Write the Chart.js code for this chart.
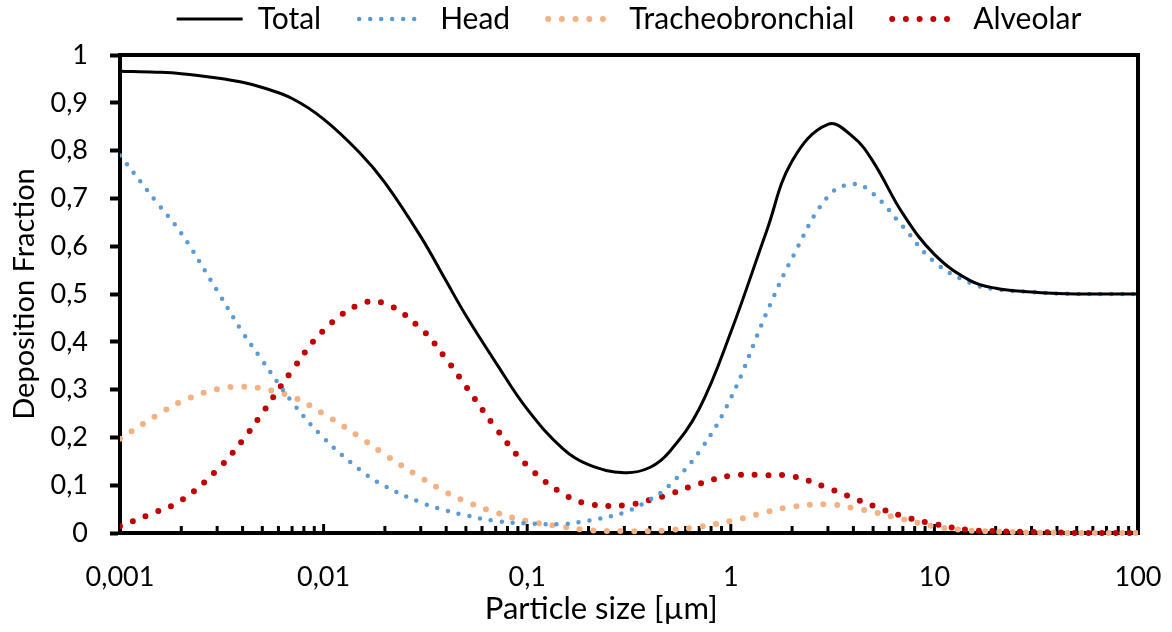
<!DOCTYPE html>
<html>
<head>
<meta charset="utf-8">
<script src="https://cdn.jsdelivr.net/npm/chart.js@4.4.0/dist/chart.umd.min.js"></script>
<style>
  html, body { margin: 0; padding: 0; background: #fff; }
</style>
</head>
<body>
<canvas id="myChart" width="1172" height="632"></canvas>
<script>
// particle size [µm]
const sizes = [0.001, 0.0015, 0.002, 0.003, 0.004, 0.005, 0.007,
  0.01, 0.015, 0.02, 0.03, 0.04, 0.05, 0.07,
  0.1, 0.15, 0.2, 0.3, 0.4, 0.5, 0.7,
  1, 1.5, 2, 3, 4, 5, 7,
  10, 15, 20, 30, 40, 50, 70, 100];

const total = [0.966, 0.964, 0.961, 0.952, 0.943, 0.932, 0.909,
  0.866, 0.796, 0.733, 0.62, 0.527, 0.455, 0.357,
  0.259, 0.176, 0.143, 0.126, 0.137, 0.17, 0.26,
  0.42, 0.632, 0.778, 0.855, 0.828, 0.777, 0.668,
  0.583, 0.528, 0.512, 0.504, 0.501, 0.5, 0.5, 0.5];

const head = [0.79, 0.694, 0.627, 0.507, 0.42, 0.361, 0.274,
  0.199, 0.133, 0.098, 0.064, 0.047, 0.037, 0.025,
  0.02, 0.019, 0.026, 0.043, 0.07, 0.1, 0.17,
  0.282, 0.461, 0.575, 0.704, 0.73, 0.71, 0.641,
  0.567, 0.523, 0.51, 0.504, 0.501, 0.5, 0.5, 0.5];

const tracheo = [0.197, 0.245, 0.275, 0.301, 0.306, 0.302, 0.285,
  0.249, 0.201, 0.164, 0.116, 0.085, 0.066, 0.043,
  0.025, 0.013, 0.006, 0.004, 0.004, 0.006, 0.013,
  0.025, 0.044, 0.055, 0.06, 0.052, 0.044, 0.029,
  0.014, 0.005, 0.003, 0.001, 0.0005, 0, 0, 0];

const alveolar = [0.014, 0.044, 0.068, 0.132, 0.194, 0.251, 0.34,
  0.424, 0.478, 0.48, 0.428, 0.364, 0.307, 0.22,
  0.141, 0.082, 0.061, 0.058, 0.069, 0.081, 0.103,
  0.12, 0.121, 0.119, 0.094, 0.073, 0.057, 0.035,
  0.019, 0.006, 0.004, 0.002, 0.001, 0, 0, 0];

const xTickValues = [0.001, 0.01, 0.1, 1, 10, 100];
const xTickLabels = ['0,001', '0,01', '0,1', '1', '10', '100'];
const yTickLabels = ['0', '0,1', '0,2', '0,3', '0,4', '0,5', '0,6', '0,7', '0,8', '0,9', '1'];

// minor tick positions 1..9 per decade
const xMinorTicks = [];
for (let e = -3; e < 2; e++) {
  for (let m = 1; m < 10; m++) xMinorTicks.push(m * Math.pow(10, e));
}
xMinorTicks.push(100);

const toPoints = (ys) => sizes.map((x, i) => ({x: x, y: ys[i]}));

const font = 'Lato';

// excel style: ticks pointing inward on x axis, plus a closed frame
const frame = {
  id: 'frame',
  beforeDatasetsDraw(chart) {
    const {ctx, chartArea, scales} = chart;
    ctx.save();
    ctx.strokeStyle = '#000';
    ctx.lineWidth = 3;
    xMinorTicks.forEach(v => {
      const px = scales.x.getPixelForValue(v);
      const major = xTickValues.includes(v);
      ctx.beginPath();
      ctx.moveTo(px, chartArea.bottom);
      ctx.lineTo(px, chartArea.bottom - (major ? 9 : 7));
      ctx.stroke();
    });
    ctx.lineWidth = 4;
    ctx.beginPath();
    ctx.moveTo(chartArea.left - 2, chartArea.top);
    ctx.lineTo(chartArea.right, chartArea.top);
    ctx.lineTo(chartArea.right, chartArea.bottom + 2);
    ctx.stroke();
    ctx.restore();
  }
};

const ctx = document.querySelector('#myChart');
const myChart = new Chart(ctx, {
  type: 'line',
  data: {
    datasets: [{
      label: 'Total',
      data: toPoints(total),
      borderColor: '#000000',
      borderWidth: 3
    }, {
      label: 'Head',
      data: toPoints(head),
      borderColor: '#5B9BD5',
      borderWidth: 4.5,
      borderDash: [0, 11],
      borderCapStyle: 'round'
    }, {
      label: 'Tracheobronchial',
      data: toPoints(tracheo),
      borderColor: '#F4B183',
      borderWidth: 6,
      borderDash: [0, 13.7],
      borderCapStyle: 'round'
    }, {
      label: 'Alveolar',
      data: toPoints(alveolar),
      borderColor: '#C00000',
      borderWidth: 6,
      borderDash: [0, 13.7],
      borderCapStyle: 'round'
    }]
  },
  options: {
    responsive: false,
    animation: false,
    devicePixelRatio: 1,
    layout: { padding: { top: -34, left: 0, right: 34, bottom: 0 } },
    datasets: {
      line: {
        pointRadius: 0,
        fill: false,
        tension: 0.4,
        clip: { left: 0, top: 6, right: 0, bottom: 6 }
      }
    },
    plugins: {
      tooltip: { enabled: false },
      // empty title only used as a spacer between legend and plot
      title: {
        display: true,
        text: '',
        fullSize: false,
        weight: 500,
        font: { size: 5 },
        padding: { top: 0, bottom: 5 }
      },
      legend: {
        position: 'top',
        fullSize: false,
        weight: 1000,
        labels: {
          color: '#000',
          font: { family: font, size: 30 },
          usePointStyle: true,
          pointStyle: 'line',
          pointStyleWidth: 66,
          padding: 38,
          generateLabels: (chart) => Chart.defaults.plugins.legend.labels.generateLabels(chart).map(item => {
            const ds = chart.data.datasets[item.datasetIndex];
            item.lineDash = ds.borderDash || [];
            item.lineCap = ds.borderCapStyle || 'butt';
            item.lineWidth = ds.borderWidth;
            item.strokeStyle = ds.borderColor;
            return item;
          })
        }
      }
    },
    scales: {
      x: {
        type: 'logarithmic',
        min: 0.001,
        max: 100,
        afterBuildTicks: (scale) => { scale.ticks = xTickValues.map(v => ({value: v})); },
        afterFit: (scale) => { scale.height = 99; scale.paddingLeft = 0; scale.paddingRight = 0; },
        ticks: {
          color: '#000',
          font: { family: font, size: 27 },
          padding: 28,
          maxRotation: 0,
          autoSkip: false,
          callback: (v, i) => xTickLabels[i]
        },
        grid: { display: true, drawOnChartArea: false, drawTicks: false },
        border: { display: true, color: '#000', width: 4 },
        title: {
          display: true,
          text: 'Particle size [µm]' + '\u00a0'.repeat(7),
          color: '#000',
          font: { family: font, size: 31 },
          padding: { top: 0, bottom: 4 }
        }
      },
      y: {
        min: 0,
        max: 1,
        afterFit: (scale) => { scale.width = 120; scale.paddingTop = 0; scale.paddingBottom = 0; },
        ticks: {
          stepSize: 0.1,
          color: '#000',
          font: { family: font, size: 27 },
          padding: 22,
          callback: (v, i) => yTickLabels[i]
        },
        grid: { drawOnChartArea: false, drawTicks: true, tickLength: 10, tickWidth: 4, tickColor: '#000' },
        border: { display: true, color: '#000', width: 4 },
        title: {
          display: true,
          text: 'Deposition Fraction',
          color: '#000',
          font: { family: font, size: 29 },
          padding: { top: 7, bottom: 0 }
        }
      }
    }
  },
  plugins: [frame]
});
</script>
</body>
</html>
